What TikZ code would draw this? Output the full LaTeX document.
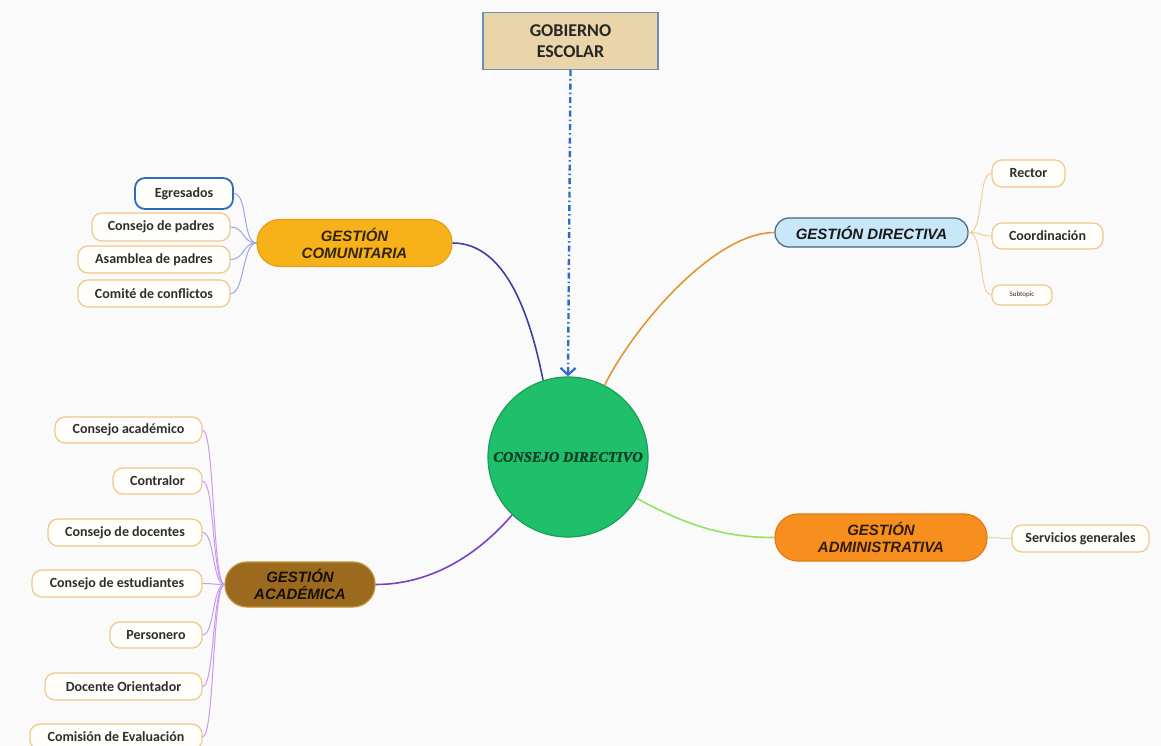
\documentclass[tikz,border=0pt]{standalone}
\usepackage{fontspec}
\setmainfont{Carlito}
\newfontfamily\pillfont{Liberation Sans}
\newfontfamily\cdfont{Liberation Serif}[BoldItalicFeatures={FakeBold=1.5}]
\usetikzlibrary{arrows.meta}
\definecolor{bgc}{HTML}{FAFAFA}
\definecolor{childfill}{HTML}{FFFEFA}
\definecolor{childdraw}{HTML}{F0C78A}
\definecolor{childtext}{HTML}{2E2E2E}
\definecolor{gobfill}{HTML}{E9D5A9}
\definecolor{gobdraw}{HTML}{6F8DAD}
\definecolor{cdfill}{HTML}{1FBF6B}
\definecolor{cddraw}{HTML}{17A058}
\definecolor{cdtext}{HTML}{0E3F25}
\definecolor{comfill}{HTML}{F7B21A}
\definecolor{comdraw}{HTML}{E6A010}
\definecolor{dirfill}{HTML}{C8E8FA}
\definecolor{dirdraw}{HTML}{45627F}
\definecolor{admfill}{HTML}{F78F1E}
\definecolor{admdraw}{HTML}{E27A12}
\definecolor{acafill}{HTML}{9B6A1E}
\definecolor{acadraw}{HTML}{C39232}
\definecolor{arrowc}{HTML}{2F6CC8}
\definecolor{lcom}{HTML}{3B3FAA}
\definecolor{ldir}{HTML}{E39535}
\definecolor{ladm}{HTML}{94E25E}
\definecolor{laca}{HTML}{7B40C8}
\definecolor{lcomc}{HTML}{9AA5E8}
\definecolor{ldirc}{HTML}{F6CC95}
\definecolor{ladmc}{HTML}{C0E6A8}
\definecolor{lacac}{HTML}{C79AF0}
\definecolor{egrdraw}{HTML}{2D6DB5}
\tikzset{
  childbox/.style={draw=childdraw, fill=childfill, line width=1.2pt, rounded corners=10pt,
    inner sep=0pt, minimum height=27pt, text=childtext,
    font=\fontsize{14}{16}\selectfont\bfseries},
  pill/.style={line width=1.2pt, inner sep=0pt, align=center,
    font=\pillfont\fontsize{15}{17}\selectfont\bfseries\itshape},
  branch/.style={line width=1.6pt},
  twig/.style={line width=1pt},
}
\begin{document}
\begin{tikzpicture}[x=1pt,y=-1pt]
\useasboundingbox (0,0) rectangle (1161,746);
\fill[bgc] (0,0) rectangle (1161,746);

% central
\node[circle, fill=cdfill, draw=cddraw, line width=1.2pt, minimum size=160pt, inner sep=0pt,
  text=cdtext, font=\cdfont\fontsize{14.5}{16}\selectfont\bfseries\itshape] (cd) at (568,457) {CONSEJO DIRECTIVO};

% top
\node[draw=gobdraw, fill=gobfill, line width=1.3pt, minimum width=175pt, minimum height=57pt,
  inner sep=0pt, align=center, font=\fontsize{18}{21}\selectfont\bfseries, text=black!85] (gob) at (570.5,41) {GOBIERNO\\ESCOLAR};

% main branches
\node[pill, fill=comfill, draw=comdraw, rounded corners=23pt, minimum width=195pt, minimum height=47pt, text=black!80!comfill] (com) at (354.5,243) {GESTIÓN\\COMUNITARIA};
\node[pill, fill=dirfill, draw=dirdraw, rounded corners=14pt, minimum width=193pt, minimum height=29pt, text=black!90] (dir) at (871.5,232.5) {GESTIÓN DIRECTIVA};
\node[pill, fill=admfill, draw=admdraw, rounded corners=23pt, minimum width=212pt, minimum height=47pt, text=black!80!admfill] (adm) at (881,537.5) {GESTIÓN\\ADMINISTRATIVA};
\node[pill, fill=acafill, draw=acadraw, rounded corners=22pt, minimum width=150pt, minimum height=45pt, text=black!85!acafill] (aca) at (300,584.5) {GESTIÓN\\ACADÉMICA};

% comunitaria children
\node[childbox, draw=egrdraw, line width=1.8pt, minimum width=98pt, minimum height=31pt] (egr) at (184,193.5) {Egresados};
\node[childbox, minimum width=138pt, minimum height=28pt] (cpad) at (161,227) {Consejo de padres};
\node[childbox, minimum width=152pt] (asa) at (154,259.5) {Asamblea de padres};
\node[childbox, minimum width=152pt] (cmt) at (154,293.5) {Comité de conflictos};

% directiva children
\node[childbox, minimum width=73pt] (rec) at (1028.5,173.5) {Rector};
\node[childbox, minimum width=111pt, minimum height=26pt] (coo) at (1047.5,236) {Coordinación};
\node[childbox, minimum width=60pt, minimum height=20pt, rounded corners=8pt, font=\fontsize{7}{8}\selectfont] (sub) at (1022,295) {Subtopic};

% administrativa child
\node[childbox, minimum width=137pt] (ser) at (1080.5,538.5) {Servicios generales};

% academica children
\node[childbox, minimum width=147pt, minimum height=26pt] (cac) at (128.5,430) {Consejo académico};
\node[childbox, minimum width=89pt, minimum height=26pt] (ctr) at (157.5,481) {Contralor};
\node[childbox, minimum width=154pt] (cdo) at (125,532.5) {Consejo de docentes};
\node[childbox, minimum width=170pt] (ces) at (117,583.5) {Consejo de estudiantes};
\node[childbox, minimum width=92pt, minimum height=26pt] (per) at (156,635) {Personero};
\node[childbox, minimum width=157pt] (dor) at (123.5,686.5) {Docente Orientador};
\node[childbox, minimum width=172pt, minimum height=26pt] (cev) at (116,737) {Comisión de Evaluación};

% main connectors
\draw[branch, lcom] (com.east) .. controls +(55,0) and +(-12,-60) .. (cd.108);
\draw[branch, ldir] (dir.west) .. controls +(-60,0) and +(30,-60) .. (cd.63);
\draw[branch, ladm] (cd.-31) .. controls +(55,30) and +(-45,0) .. (adm.west);
\draw[branch, laca] (cd.226) .. controls +(-30,35) and +(60,0) .. (aca.east);

% arrow
\draw[arrowc, line width=2.4pt, dash pattern=on 6pt off 3pt on 1.5pt off 3pt,
  -{Straight Barb[length=7pt,width=15pt,line width=2.2pt]}] (gob.south) -- (cd.north);

% comunitaria twigs
\foreach \c in {egr,cpad,asa,cmt}
  \draw[twig, lcomc] (com.west) .. controls +(-14,0) and +(14,0) .. (\c.east);
% directiva twigs
\foreach \c in {rec,coo,sub}
  \draw[twig, ldirc] (dir.east) .. controls +(16,0) and +(-14,0) .. (\c.west);
% administrativa twig
\draw[twig, ladmc] (adm.east) -- (ser.west);
% academica twigs
\foreach \c in {cac,ctr,cdo,ces,per,dor,cev}
  \draw[twig, lacac] (aca.west) .. controls +(-12,0) and +(12,0) .. (\c.east);
\end{tikzpicture}
\end{document}
